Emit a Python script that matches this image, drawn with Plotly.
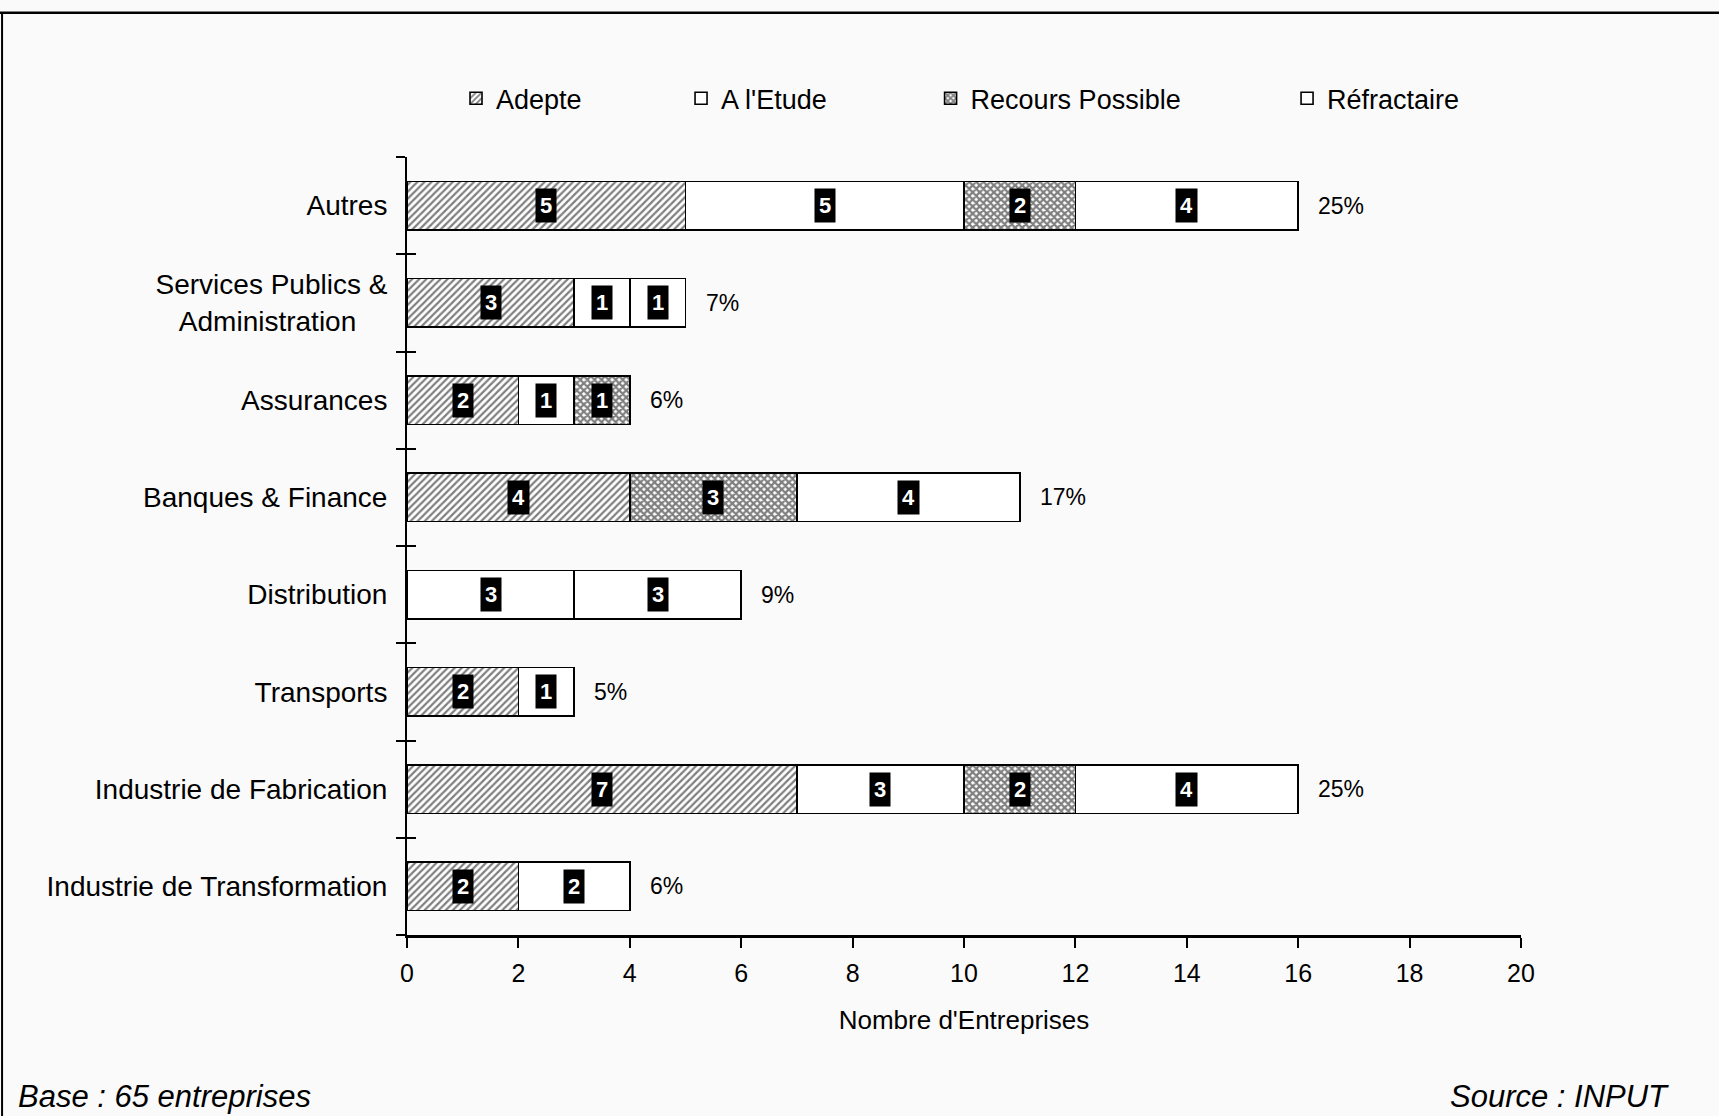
import plotly.graph_objects as go

categories = [
    "Industrie de Transformation",
    "Industrie de Fabrication",
    "Transports",
    "Distribution",
    "Banques & Finance",
    "Assurances",
    "Services Publics &<br>Administration\u00a0\u00a0\u00a0\u00a0",
    "Autres",
]
series_names = ["Adepte", "A l'Etude", "Recours Possible", "Réfractaire"]
adepte = [2, 7, 2, 0, 4, 2, 3, 5]
a_l_etude = [2, 3, 1, 3, 0, 1, 1, 5]
recours = [0, 2, 0, 0, 3, 1, 0, 2]
refractaire = [0, 4, 0, 3, 4, 0, 1, 4]
pct_labels = ["6%", "25%", "5%", "9%", "17%", "6%", "7%", "25%"]
x_ticks = list(range(0, 21, 2))

series_values = [adepte, a_l_etude, recours, refractaire]
patterns = [
    dict(shape="/", fgcolor="black", bgcolor="white", size=5, solidity=0.45),
    dict(shape="", bgcolor="white"),
    dict(shape="x", fgcolor="black", bgcolor="white", size=5, solidity=0.7),
    dict(shape="", bgcolor="white"),
]
legend_ids = ["legend", "legend2", "legend3", "legend4"]

FONT = "Liberation Sans, Arial, sans-serif"
BG = "#fbfafa"

fig = go.Figure()
for name, vals, pat, lg in zip(series_names, series_values, patterns, legend_ids):
    fig.add_trace(go.Bar(
        y=categories, x=vals, name=name, orientation="h",
        marker=dict(color="white", pattern=pat, line=dict(color="black", width=1.6)),
        width=0.5, legend=lg, hoverinfo="skip",
    ))

# invisible trace for the overlay y axis (inner tick halves)
fig.add_trace(go.Scatter(y=categories, x=[0] * len(categories), yaxis="y2",
                         mode="markers", marker=dict(opacity=0), showlegend=False,
                         hoverinfo="skip"))

annotations = []
for i, cat in enumerate(categories):
    start = 0
    for vals in series_values:
        v = vals[i]
        if v > 0:
            annotations.append(dict(
                x=start + v / 2, y=cat, xref="x", yref="y", text="<b>" + str(v) + "</b>",
                showarrow=False,
                font=dict(family=FONT, size=22, color="white"), bgcolor="black",
                borderpad=4,
            ))
        start += v
    annotations.append(dict(
        x=start, y=cat, xref="x", yref="y", text=pct_labels[i], showarrow=False,
        xanchor="left", xshift=18, font=dict(family=FONT, size=23, color="black"),
    ))

annotations.append(dict(x=-0.351, y=-0.208, xref="paper", yref="paper",
                        text="<i>Base : 65 entreprises</i>", showarrow=False,
                        xanchor="left", yanchor="middle",
                        font=dict(family=FONT, size=31, color="black")))
annotations.append(dict(x=1.1345, y=-0.208, xref="paper", yref="paper",
                        text="<i>Source : INPUT</i>", showarrow=False,
                        xanchor="right", yanchor="middle",
                        font=dict(family=FONT, size=31, color="black")))

legend_x = [0.044, 0.246, 0.470, 0.790]
legend_common = dict(orientation="h", yanchor="middle", xanchor="left", y=1.075,
                     bgcolor="rgba(0,0,0,0)", font=dict(family=FONT, size=27, color="black"),
                     itemwidth=30)

fig.update_layout(
    width=1719, height=1116,
    margin=dict(l=407, r=198, t=157, b=181),
    paper_bgcolor=BG, plot_bgcolor=BG,
    barmode="stack",
    font=dict(family=FONT, color="black"),
    annotations=annotations,
    legend=dict(x=legend_x[0], **legend_common),
    legend2=dict(x=legend_x[1], **legend_common),
    legend3=dict(x=legend_x[2], **legend_common),
    legend4=dict(x=legend_x[3], **legend_common),
    xaxis=dict(range=[0, 20], tickvals=x_ticks, showgrid=False, zeroline=False,
               showline=True, linecolor="black", linewidth=2.5,
               ticks="outside", ticklen=10, tickwidth=1.5, tickcolor="black",
               ticklabelstandoff=4,
               tickfont=dict(family=FONT, size=25, color="black"),
               title=dict(text="Nombre d'Entreprises", standoff=26,
                          font=dict(family=FONT, size=26, color="black"))),
    xaxis2=dict(overlaying="x", matches="x", anchor="y", side="bottom",
                tickvals=x_ticks, ticks="inside", ticklen=10, tickwidth=1.5,
                tickcolor="black", showticklabels=False, showgrid=False,
                zeroline=False, showline=False),
    yaxis=dict(type="category", categoryorder="array", categoryarray=categories,
               range=[-0.5, 7.5], showgrid=False, zeroline=False,
               showline=True, linecolor="black", linewidth=2,
               ticks="outside", tickson="boundaries", ticklen=9, tickwidth=1.5,
               tickcolor="black", ticklabelstandoff=12,
               tickfont=dict(family=FONT, size=28, color="black")),
    yaxis2=dict(type="category", categoryorder="array", categoryarray=categories,
                range=[-0.5, 7.5], overlaying="y", anchor="x", side="left",
                ticks="inside", tickson="boundaries", ticklen=9, tickwidth=1.5,
                tickcolor="black", showticklabels=False, showgrid=False,
                zeroline=False, showline=False),
    shapes=[
        dict(type="line", xref="paper", yref="paper", x0=-0.366, x1=1.18,
             y0=1.1855, y1=1.1855, line=dict(color="black", width=2.5)),
        dict(type="line", xref="paper", yref="paper", x0=-0.3635, x1=-0.3635,
             y0=1.1855, y1=-0.26, line=dict(color="black", width=2)),
    ],
)

fig.write_html("out.html")
